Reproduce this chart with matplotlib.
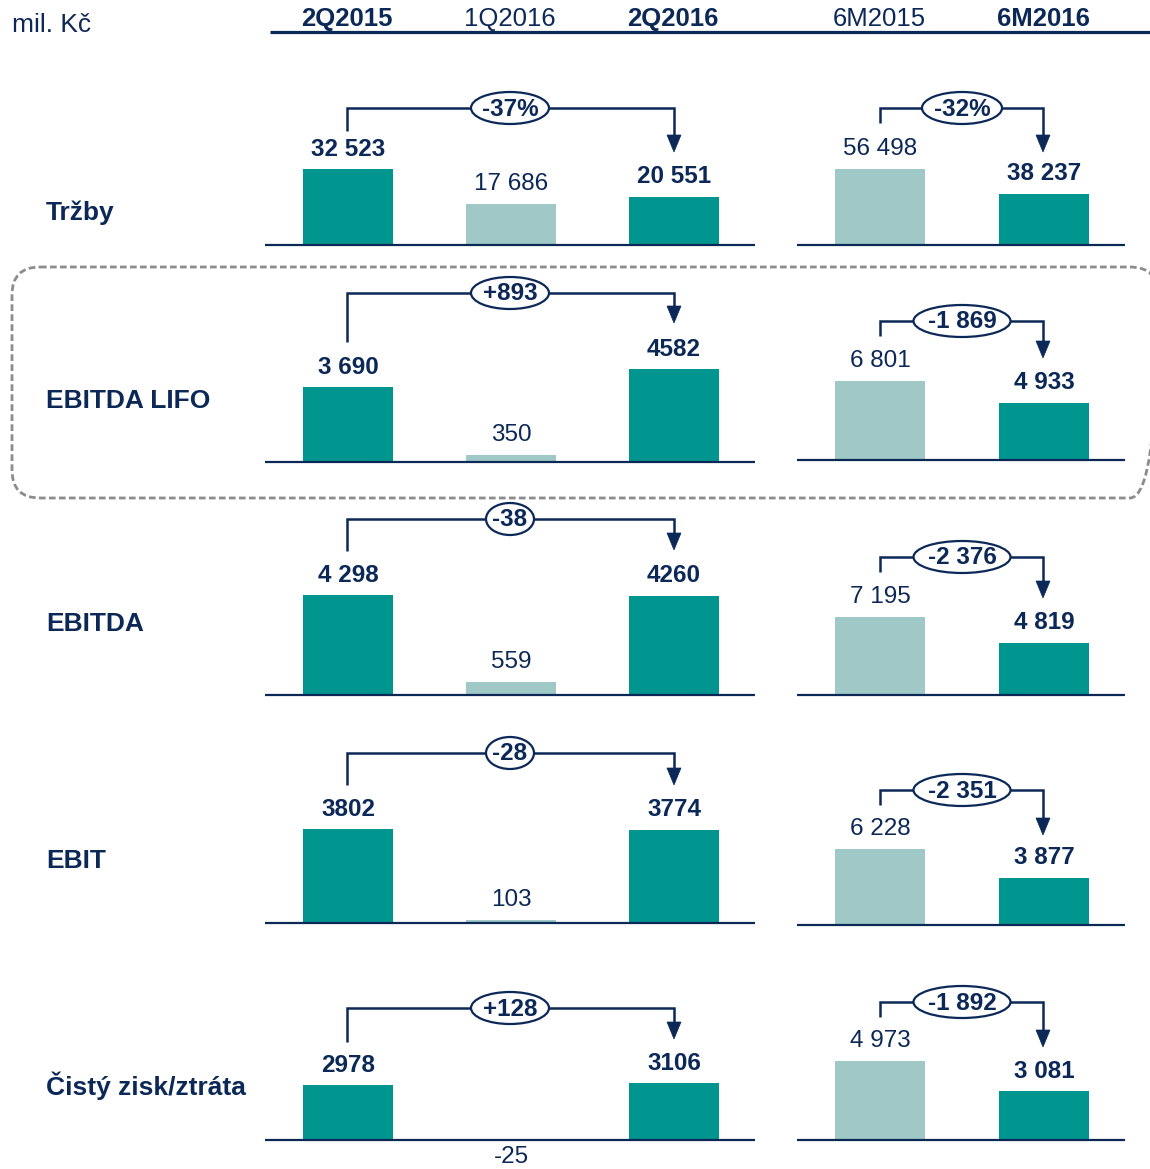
import matplotlib
matplotlib.use('Agg')
import matplotlib.pyplot as plt
from matplotlib.patches import Ellipse, FancyBboxPatch, Polygon

plt.rcParams['font.family'] = ['Liberation Sans', 'DejaVu Sans']

# ---------------- data ----------------
unit_label = "mil. Kč"
quarter_periods = ["2Q2015", "1Q2016", "2Q2016"]
halfyear_periods = ["6M2015", "6M2016"]
metrics = ["Tržby", "EBITDA LIFO", "EBITDA", "EBIT", "Čistý zisk/ztráta"]

q2_2015 = [32523, 3690, 4298, 3802, 2978]
q1_2016 = [17686, 350, 559, 103, -25]
q2_2016 = [20551, 4582, 4260, 3774, 3106]
m6_2015 = [56498, 6801, 7195, 6228, 4973]
m6_2016 = [38237, 4933, 4819, 3877, 3081]

q2_2015_labels = ["32 523", "3 690", "4 298", "3802", "2978"]
q1_2016_labels = ["17 686", "350", "559", "103", "-25"]
q2_2016_labels = ["20 551", "4582", "4260", "3774", "3106"]
m6_2015_labels = ["56 498", "6 801", "7 195", "6 228", "4 973"]
m6_2016_labels = ["38 237", "4 933", "4 819", "3 877", "3 081"]

q_change = ["-37%", "+893", "-38", "-28", "+128"]
m6_change = ["-32%", "-1 869", "-2 376", "-2 351", "-1 892"]

# ---------------- style / layout ----------------
W, H, DPI = 1150, 1169, 100
NAVY = '#0c2857'
DARK = '#00968f'
LIGHT = '#a0c8c7'
FS_VAL = 17.5
FS_LAB = 19

row_label_y = [213, 401, 624, 861, 1086]
left_base = [245, 462, 695, 923, 1140]
right_base = [245, 460, 695, 925, 1140]
left_maxpx = [76, 93, 100, 94, 57]
right_maxpx = [76, 79, 78, 76, 79]
left_br = [(108, 131, 152), (293, 342, 323), (519, 551, 550), (753, 785, 785), (1008, 1042, 1039)]
right_br = [(108, 123, 152), (321, 336, 358), (557, 572, 598), (790, 805, 835), (1002, 1017, 1047)]
left_ew = [78, 78, 48, 48, 78]
right_ew = [80, 97, 97, 97, 97]

fig = plt.figure(figsize=(W / DPI, H / DPI), dpi=DPI)
ax0 = fig.add_axes([0, 0, 1, 1])
ax0.set_xlim(0, W)
ax0.set_ylim(H, 0)
ax0.axis('off')

# header
ax0.text(12, 25, unit_label, fontsize=FS_LAB, color=NAVY, ha='left', va='center')
hdr_x = [347, 510, 673, 879, 1043]
hdr_bold = [True, False, True, False, True]
for lbl, x, b in zip(quarter_periods + halfyear_periods, hdr_x, hdr_bold):
    ax0.text(x, 19, lbl, fontsize=18.5, color=NAVY, ha='center', va='center',
             fontweight='bold' if b else 'normal')
ax0.plot([270, 1150], [32, 32], color=NAVY, lw=2.3, solid_capstyle='butt')

# dashed box around EBITDA LIFO
box = FancyBboxPatch((12, 267), 1146, 231, boxstyle='round,pad=0,rounding_size=28',
                     fill=False, edgecolor='#8c8c8c', lw=2.0, linestyle=(0, (2.4, 1.2)))
ax0.add_patch(box)

for i, m in enumerate(metrics):
    ax0.text(46, row_label_y[i], m, fontsize=FS_LAB, color=NAVY, fontweight='bold',
             ha='left', va='center')


def panel(x0, x1, centers, base, maxpx, values, labels, colors, bolds):
    vmax = max(values)
    scale = maxpx / vmax
    below = 40
    top = 5
    ax = fig.add_axes([x0 / W, (H - base - below) / H, (x1 - x0) / W, (maxpx + below + top) / H])
    step = centers[1] - centers[0]
    ax.set_xlim(-(centers[0] - x0) / step, (x1 - centers[0]) / step)
    ax.set_ylim(-below / scale, vmax + top / scale)
    ax.axis('off')
    xs = list(range(len(values)))
    ax.bar(xs, values, width=90 / step, color=colors, linewidth=0, zorder=2)
    ax.axhline(0, color=NAVY, lw=1.6, zorder=3)
    for x, v, l, b in zip(xs, values, labels, bolds):
        off = 20 if v >= 0 else -17
        ax.annotate(l, (x, v), xytext=(0, off), textcoords='offset pixels', ha='center',
                    va='center', fontsize=FS_VAL, color=NAVY,
                    fontweight='bold' if b else 'normal', annotation_clip=False)
    return ax


def bracket(xl, xr, y, lb, tip, xe, ew, txt):
    lw = 1.8
    ax0.plot([xl, xl, xr, xr], [lb, y, y, tip - 16], color=NAVY, lw=lw, zorder=3,
             solid_joinstyle='miter', solid_capstyle='butt')
    ax0.add_patch(Polygon([[xr - 7, tip - 17], [xr + 7, tip - 17], [xr, tip]], closed=True,
                          facecolor=NAVY, edgecolor=NAVY, lw=0.5, zorder=4))
    ax0.add_patch(Ellipse((xe, y), ew, 32, facecolor='white', edgecolor=NAVY, lw=1.6, zorder=5))
    ax0.text(xe, y + 1, txt, fontsize=FS_VAL, fontweight='bold', color=NAVY, ha='center',
             va='center', zorder=6)


for i in range(len(metrics)):
    panel(265, 755, [348, 511, 674], left_base[i], left_maxpx[i],
          [q2_2015[i], q1_2016[i], q2_2016[i]],
          [q2_2015_labels[i], q1_2016_labels[i], q2_2016_labels[i]],
          [DARK, LIGHT, DARK], [True, False, True])
    panel(797, 1125, [880, 1044], right_base[i], right_maxpx[i],
          [m6_2015[i], m6_2016[i]],
          [m6_2015_labels[i], m6_2016_labels[i]],
          [LIGHT, DARK], [False, True])
    y, lb, tip = left_br[i]
    bracket(347, 674, y, lb, tip, 510, left_ew[i], q_change[i])
    y, lb, tip = right_br[i]
    bracket(880, 1043, y, lb, tip, 962, right_ew[i], m6_change[i])

fig.savefig('out.png', dpi=DPI)
